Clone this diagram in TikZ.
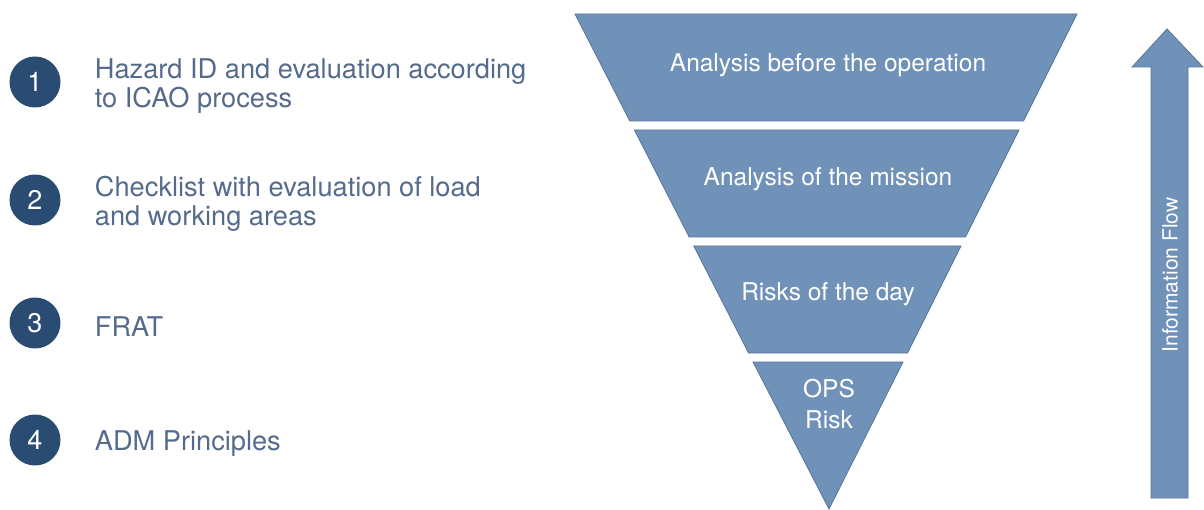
\documentclass[tikz,border=0pt]{standalone}
\usepackage{fontspec}
\setmainfont{TeX Gyre Heros}
\usetikzlibrary{positioning}

\definecolor{funnelblue}{RGB}{113,146,184}
\definecolor{funneledge}{RGB}{86,116,152}
\definecolor{badgeblue}{RGB}{42,75,114}
\definecolor{itemtext}{RGB}{84,107,140}

\begin{document}
\begin{tikzpicture}[x=1pt, y=-1pt]
  % Set the node styles
  \tikzset{
    numcircle/.style={circle, fill=badgeblue, text=white, minimum size=51pt, inner sep=0pt, font=\fontsize{27}{27}\selectfont},
    itemlabel/.style={anchor=west, align=left, text=itemtext, inner sep=0pt, font=\fontsize{27.2}{29}\selectfont},
    layer/.style={fill=funnelblue, draw=funneledge, line width=0.8pt},
    layerlabel/.style={text=white, align=center, inner sep=0pt, font=\fontsize{24.5}{31}\selectfont}
  }
  \useasboundingbox (0,0) rectangle (1204,510);

  % Draw the numbered list on the left
  \foreach \i/\y/\txt in {1/82/{Hazard ID and evaluation according\\to ICAO process},
                          2/200/{Checklist with evaluation of load\\and working areas},
                          3/323/FRAT,
                          4/440/ADM Principles}{
    \node[numcircle] (num\i) at (35,\y) {\i};
    \node[itemlabel, right=34pt of num\i, yshift=-4pt] (item\i) {\txt};
  }

  % Draw the funnel layers
  \foreach \top/\bot in {14/121, 130/237, 246/353}{
    \draw[layer] ({575+0.512*(\top-14)},\top) -- ({1077-0.5*(\top-14)},\top)
      -- ({1077-0.5*(\bot-14)},\bot) -- ({575+0.512*(\bot-14)},\bot) -- cycle;
  }
  \draw[layer] (753,362) -- (903,362) -- (829,509) -- cycle;

  % Label the funnel layers
  \node[layerlabel, anchor=base] (before) at (828,72) {Analysis before the operation};
  \node[layerlabel, anchor=base] (mission) at (828,186) {Analysis of the mission};
  \node[layerlabel, anchor=base] (day) at (828,301) {Risks of the day};
  \node[layerlabel] (ops) at (829,404) {OPS\\Risk};

  % Draw the information flow arrow
  \draw[layer] (1151,498) -- (1151,67) -- (1132,67) -- (1167,29) -- (1203,67)
    -- (1188,67) -- (1188,498) -- cycle;
  \node[rotate=90, text=white, inner sep=0pt, font=\fontsize{21}{21}\selectfont] (flow) at (1170,275) {Information Flow};
\end{tikzpicture}
\end{document}
